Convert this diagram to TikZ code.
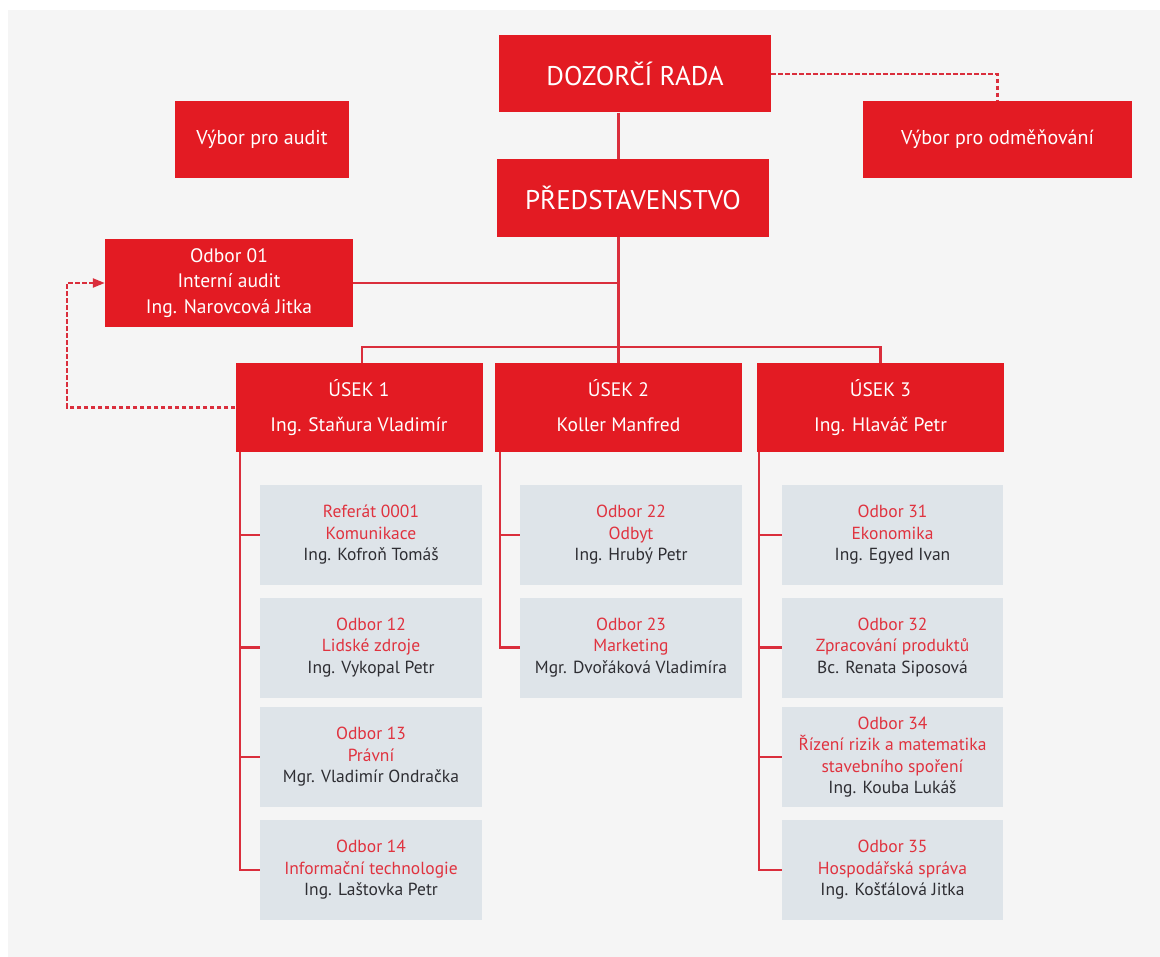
\documentclass[tikz,border=0pt]{standalone}
\usepackage{fontspec}
\setmainfont{PT Sans}
\usetikzlibrary{arrows.meta,calc}
\definecolor{cred}{HTML}{E31B23}
\definecolor{lred}{HTML}{DA2E3C}
\definecolor{gbox}{HTML}{DEE4E9}
\definecolor{tred}{HTML}{E0333F}
\definecolor{tdark}{HTML}{2E2E33}
\definecolor{bgc}{HTML}{F5F5F5}
\newcommand{\rt}[1]{\textcolor{tred}{#1}}
\begin{document}
\begin{tikzpicture}[x=1pt,y=-1pt,
  redbox/.style={fill=cred, text=white, inner sep=0pt, align=center},
  bigbox/.style={redbox, minimum width=272pt, minimum height=77pt, font=\fontsize{27}{30}\selectfont},
  midbox/.style={redbox, minimum height=77pt, font=\fontsize{20}{24}\selectfont},
  usekbox/.style={redbox, minimum width=247pt, minimum height=89pt, font=\fontsize{19.5}{35}\selectfont},
  greybox/.style={fill=gbox, text=tdark, inner sep=0pt, align=center, minimum width=222pt, minimum height=100pt, font=\fontsize{17.5}{21.5}\selectfont},
  conn/.style={draw=lred, line width=2.2pt},
  dconn/.style={draw=lred, line width=2.2pt, dash pattern=on 4.5pt off 2.5pt}]
\useasboundingbox (0,0) rectangle (1160,957);
\fill[white] (0,0) rectangle (1160,957);
\fill[bgc] (8,10) rectangle (1160,957);

% top
\node[bigbox] (dozor) at (635,74) {DOZORČÍ RADA};
\node[bigbox, minimum height=78pt] (pred) at (633,198) {PŘEDSTAVENSTVO};
\node[midbox, minimum width=174pt] (vaudit) at (262,139.5) {Výbor pro audit};
\node[midbox, minimum width=269pt] (vodm) at (997.5,139.5) {Výbor pro odměňování};
\node[redbox, minimum width=248pt, minimum height=88pt, font=\fontsize{19.5}{25.6}\selectfont] (odb01) at (229,283) {Odbor 01\\Interní audit\\Ing. Narovcová Jitka};

% useky
\node[usekbox] (usek1) at (359,407.5) {ÚSEK 1\\Ing. Staňura Vladimír};
\node[usekbox] (usek2) at (618.5,407.5) {ÚSEK 2\\Koller Manfred\vphantom{g}};
\node[usekbox] (usek3) at (880.5,407.5) {ÚSEK 3\\Ing. Hlaváč Petr};

% column 1
\node[greybox] (g11) at (371,535) {\rt{Referát 0001}\\\rt{Komunikace}\\Ing. Kofroň Tomáš};
\node[greybox] (g12) at (371,647.5) {\rt{Odbor 12}\\\rt{Lidské zdroje}\\Ing. Vykopal Petr};
\node[greybox] (g13) at (371,757) {\rt{Odbor 13}\\\rt{Právní}\\Mgr. Vladimír Ondračka};
\node[greybox] (g14) at (371,870) {\rt{Odbor 14}\\\rt{Informační technologie}\\Ing. Laštovka Petr};
% column 2
\node[greybox] (g21) at (631,535) {\rt{Odbor 22}\\\rt{Odbyt}\\Ing. Hrubý Petr};
\node[greybox] (g22) at (631,647.5) {\rt{Odbor 23}\\\rt{Marketing}\\Mgr. Dvořáková Vladimíra};
% column 3
\node[greybox, minimum width=221pt] (g31) at (892.5,535) {\rt{Odbor 31}\\\rt{Ekonomika}\\Ing. Egyed Ivan};
\node[greybox, minimum width=221pt] (g32) at (892.5,647.5) {\rt{Odbor 32}\\\rt{Zpracování produktů}\\Bc. Renata Siposová};
\node[greybox, minimum width=221pt] (g33) at (892.5,757) {\rt{Odbor 34}\\\rt{Řízení rizik a matematika}\\\rt{stavebního spoření}\\Ing. Kouba Lukáš};
\node[greybox, minimum width=221pt] (g34) at (892.5,870) {\rt{Odbor 35}\\\rt{Hospodářská správa}\\Ing. Košťálová Jitka};

% connectors top
\draw[conn] (dozor.south -| usek2.north) -- (pred.north -| usek2.north);
\draw[conn] (pred.south -| usek2.north) -- (usek2.north);
\draw[conn] (odb01.east) -- (odb01.east -| usek2.north);
\draw[conn] ($(usek1.north)+(3,0)$) -- ++(0,-16) -| (usek3.north);
\draw[dconn] (dozor.east) -| (vodm.north);
\coordinate (dl) at (67,0);
\draw[dconn, -{Triangle[length=12pt,width=9pt]}] (usek1.west) -- (usek1.west -| dl) |- (odb01.west);

% column lines
\coordinate (s1) at ($(usek1.south west)+(5,0)$);
\coordinate (s2) at ($(usek2.south west)+(5,0)$);
\coordinate (s3) at ($(usek3.south west)+(2.5,0)$);
\draw[conn] (s1) |- (g14.west);
\foreach \n in {g11,g12,g13} \draw[conn] (s1 |- \n.west) -- (\n.west);
\draw[conn] (s2) |- (g22.west);
\draw[conn] (s2 |- g21.west) -- (g21.west);
\draw[conn] (s3) |- (g34.west);
\foreach \n in {g31,g32,g33} \draw[conn] (s3 |- \n.west) -- (\n.west);
\end{tikzpicture}
\end{document}
